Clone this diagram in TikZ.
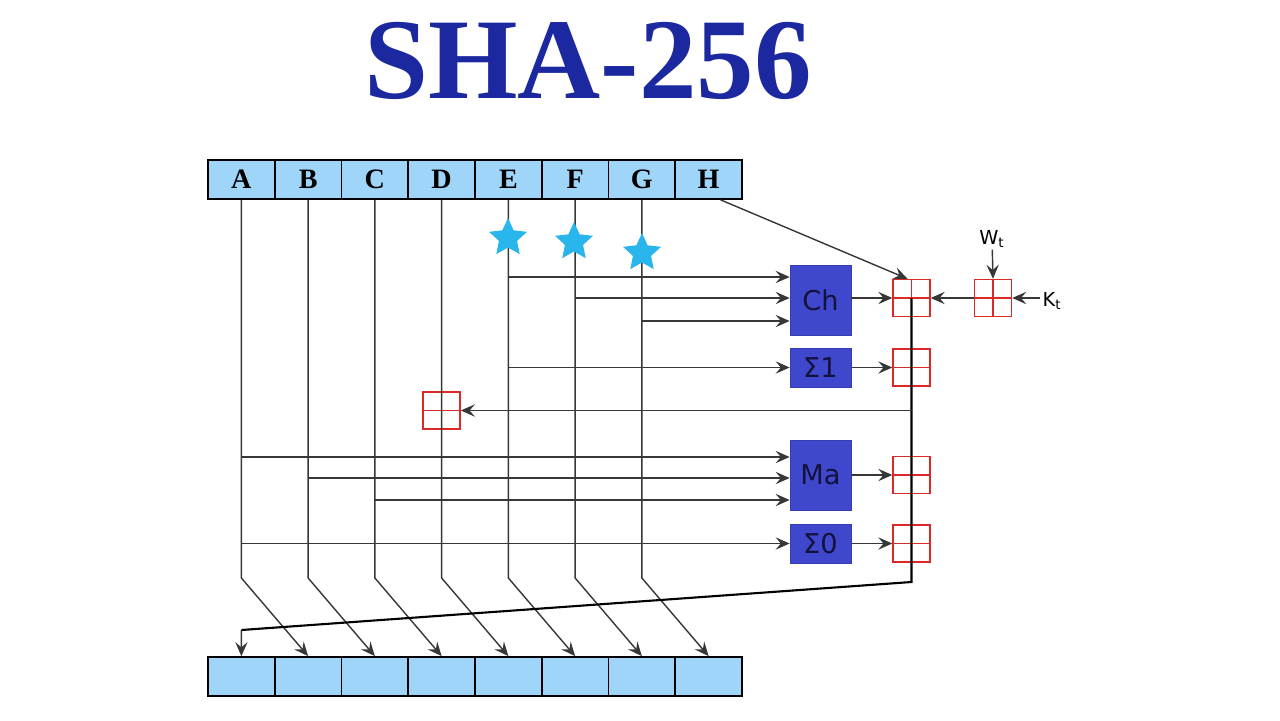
\documentclass[tikz,border=0pt]{standalone}
\usepackage{fontspec}
\setmainfont{Liberation Serif}
\setsansfont{DejaVu Sans}
\usetikzlibrary{arrows.meta,shapes.geometric}

\definecolor{regblue}{RGB}{160,213,250}
\definecolor{funcblue}{RGB}{63,72,204}
\definecolor{funcink}{RGB}{18,18,60}
\definecolor{starblue}{RGB}{41,182,236}
\definecolor{titleblue}{RGB}{28,40,160}
\definecolor{addred}{RGB}{222,40,40}
\definecolor{wiregray}{RGB}{55,55,55}

\begin{document}
\begin{tikzpicture}[x=0.02cm,y=-0.02cm,
  cell/.style={draw=black,line width=1pt,fill=regblue,minimum width=1.335cm,minimum height=0.78cm,inner sep=0pt,font=\bfseries\fontsize{16}{16}\selectfont},
  func/.style={fill=funcblue,draw=funcblue!85!black,minimum width=1.22cm,inner sep=0pt,text=funcink,font=\sffamily\fontsize{15.5}{15.5}\selectfont},
  adder/.style={draw=addred,line width=0.8pt,minimum size=0.74cm,inner sep=0pt,path picture={\draw[addred,line width=0.8pt] (path picture bounding box.north) -- (path picture bounding box.south) (path picture bounding box.west) -- (path picture bounding box.east);}},
  bluestar/.style={star,star points=5,star point ratio=2.1,fill=starblue,minimum size=0.8cm,inner sep=0pt},
  lbl/.style={font=\sffamily\fontsize{11}{11}\selectfont,inner sep=1pt},
  wire/.style={draw=wiregray,line width=0.8pt},
  arrow/.style={wire,-{Stealth[length=8pt,width=7pt,inset=3pt]}},
  bus/.style={draw=black,line width=1.2pt}]

\useasboundingbox (0,0) rectangle (1280,720);

\node[text=titleblue,font=\bfseries\fontsize{65.5}{65.5}\selectfont] (title) at (588,61) {SHA-256};

\foreach \l [count=\i] in {A,B,C,D,E,F,G,H}
  \node[cell] (\l) at ({208+66.75*(\i-0.5)},179.5) {\l};
\foreach \i in {1,...,8}
  \node[cell] (n\i) at ({208+66.75*(\i-0.5)},676.5) {};

\node[func,minimum height=1.4cm] (ch) at (820.5,300) {Ch};
\node[func,minimum height=0.78cm] (sig1) at (820.5,367.5) {Σ1};
\node[func,minimum height=1.4cm] (ma) at (820.5,475) {Ma};
\node[func,minimum height=0.78cm] (sig0) at (820.5,543.5) {Σ0};

\node[adder] (addch) at (911.5,298) {};
\node[adder] (addsig1) at (911.5,367.5) {};
\node[adder] (addma) at (911.5,475) {};
\node[adder] (addsig0) at (911.5,543.5) {};
\node[adder] (addk) at (993,298) {};
\node[adder] (addd) at (441.6,410.5) {};

\node[lbl] (wt) at (992,239) {W\textsubscript{t}};
\node[lbl] (kt) at (1052,301) {K\textsubscript{t}};

\foreach \l/\n in {A/2,B/3,C/4,D/5,E/6,F/7,G/8}
  \draw[arrow] (\l.south) -- (\l.south |- 0,578) -- (n\n.north);
\draw[arrow] ([xshift=0.24cm]H.south) -- ([xshift=-0.08cm]addch.north);

\draw[arrow] (E.south |- 0,277) -- (ch.west |- 0,277);
\draw[arrow] (F.south |- 0,298) -- (ch.west |- 0,298);
\draw[arrow] (G.south |- 0,321) -- (ch.west |- 0,321);
\draw[arrow] (E.south |- sig1) -- (sig1.west);
\draw[arrow] (A.south |- 0,457) -- (ma.west |- 0,457);
\draw[arrow] (B.south |- 0,478) -- (ma.west |- 0,478);
\draw[arrow] (C.south |- 0,500) -- (ma.west |- 0,500);
\draw[arrow] (A.south |- sig0) -- (sig0.west);

\draw[arrow] (ch.east |- addch) -- (addch.west);
\draw[arrow] (sig1) -- (addsig1);
\draw[arrow] (ma) -- (addma);
\draw[arrow] (sig0) -- (addsig0);
\draw[arrow] (addk) -- (addch);
\draw[arrow] (wt) -- (addk.north);
\draw[arrow] (kt.west |- addk) -- (addk.east);

\coordinate (turn) at (911.5,582);
\coordinate (back) at (241.4,630);
\draw[bus] (addch.center) -- (turn) -- (back);
\draw[arrow] (back) -- (n1.north);
\draw[arrow] (addch |- addd) -- (addd.east);

\node[bluestar] (s1) at (508,238) {};
\node[bluestar] (s2) at (574,242) {};
\node[bluestar] (s3) at (642,253) {};

\end{tikzpicture}
\end{document}
